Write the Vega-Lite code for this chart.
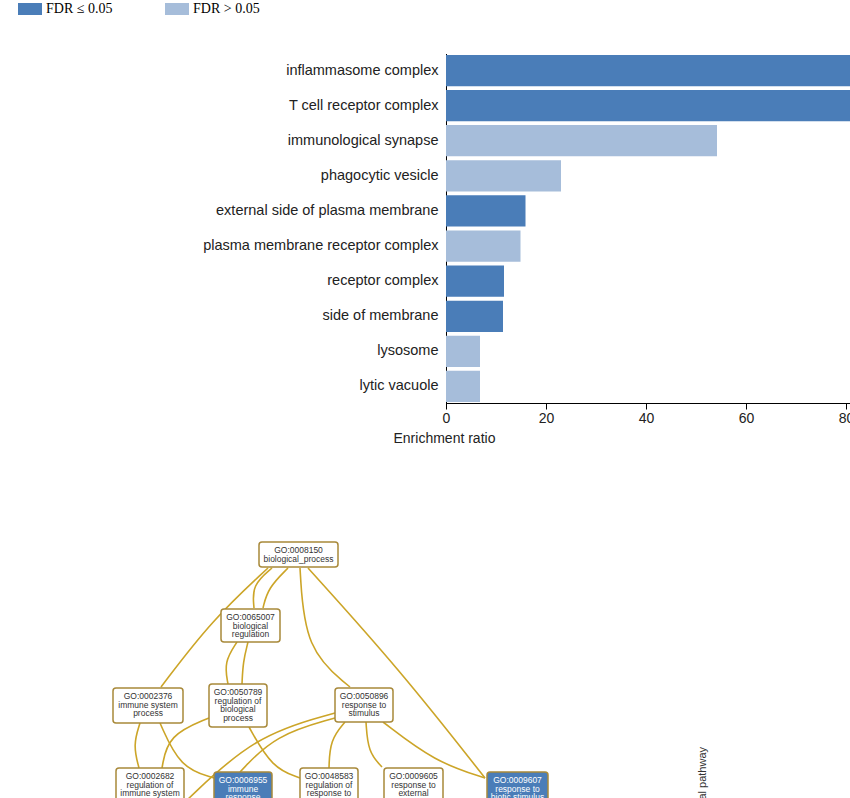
{
  "$schema": "https://vega.github.io/schema/vega-lite/v6.json",
  "width": 850,
  "height": 798,
  "padding": 0,
  "autosize": {"type": "none"},
  "background": "white",
  "config": {"view": {"stroke": null}, "font": "Liberation Sans"},
  "datasets": {
    "bars": [
      {"term": "inflammasome complex", "ratio": 100, "fdr": "FDR ≤ 0.05"},
      {"term": "T cell receptor complex", "ratio": 100, "fdr": "FDR ≤ 0.05"},
      {"term": "immunological synapse", "ratio": 54.2, "fdr": "FDR > 0.05"},
      {"term": "phagocytic vesicle", "ratio": 23.0, "fdr": "FDR > 0.05"},
      {"term": "external side of plasma membrane", "ratio": 15.9, "fdr": "FDR ≤ 0.05"},
      {"term": "plasma membrane receptor complex", "ratio": 14.9, "fdr": "FDR > 0.05"},
      {"term": "receptor complex", "ratio": 11.6, "fdr": "FDR ≤ 0.05"},
      {"term": "side of membrane", "ratio": 11.4, "fdr": "FDR ≤ 0.05"},
      {"term": "lysosome", "ratio": 6.8, "fdr": "FDR > 0.05"},
      {"term": "lytic vacuole", "ratio": 6.8, "fdr": "FDR > 0.05"}
    ],
    "nodes": [
      {"id": "GO:0008150", "label": "GO:0008150\nbiological_process", "x1": 259, "x2": 338, "y1": 542, "y2": 567, "cx": 298.5, "sig": false},
      {"id": "GO:0065007", "label": "GO:0065007\nbiological\nregulation", "x1": 221, "x2": 280, "y1": 609, "y2": 642, "cx": 250.5, "sig": false},
      {"id": "GO:0002376", "label": "GO:0002376\nimmune system\nprocess", "x1": 113, "x2": 183, "y1": 688, "y2": 723, "cx": 148, "sig": false},
      {"id": "GO:0050789", "label": "GO:0050789\nregulation of\nbiological\nprocess", "x1": 209, "x2": 267, "y1": 684, "y2": 727, "cx": 238, "sig": false},
      {"id": "GO:0050896", "label": "GO:0050896\nresponse to\nstimulus", "x1": 335, "x2": 393, "y1": 688, "y2": 722, "cx": 364, "sig": false},
      {"id": "GO:0002682", "label": "GO:0002682\nregulation of\nimmune system\nprocess", "x1": 116, "x2": 184, "y1": 768, "y2": 812, "cx": 150, "sig": false},
      {"id": "GO:0006955", "label": "GO:0006955\nimmune\nresponse", "x1": 214, "x2": 272, "y1": 772, "y2": 815, "cx": 243, "sig": true},
      {"id": "GO:0048583", "label": "GO:0048583\nregulation of\nresponse to\nstimulus", "x1": 300, "x2": 358, "y1": 768, "y2": 812, "cx": 329, "sig": false},
      {"id": "GO:0009605", "label": "GO:0009605\nresponse to\nexternal\nstimulus", "x1": 384, "x2": 443, "y1": 768, "y2": 812, "cx": 413.5, "sig": false},
      {"id": "GO:0009607", "label": "GO:0009607\nresponse to\nbiotic stimulus", "x1": 487, "x2": 548, "y1": 772, "y2": 815, "cx": 517.5, "sig": true}
    ],
    "edges": [
      {"e": 1, "o": 0, "x": 272, "y": 568}, {"e": 1, "o": 1, "x": 252, "y": 585}, {"e": 1, "o": 2, "x": 254, "y": 608},
      {"e": 2, "o": 0, "x": 288, "y": 568}, {"e": 2, "o": 1, "x": 268, "y": 588}, {"e": 2, "o": 2, "x": 263, "y": 608},
      {"e": 3, "o": 0, "x": 268, "y": 568}, {"e": 3, "o": 1, "x": 212, "y": 620}, {"e": 3, "o": 2, "x": 161, "y": 687},
      {"e": 4, "o": 0, "x": 300, "y": 568}, {"e": 4, "o": 1, "x": 305, "y": 650}, {"e": 4, "o": 2, "x": 350, "y": 687},
      {"e": 5, "o": 0, "x": 308, "y": 568}, {"e": 5, "o": 1, "x": 400, "y": 670}, {"e": 5, "o": 2, "x": 485, "y": 778},
      {"e": 6, "o": 0, "x": 237, "y": 642}, {"e": 6, "o": 1, "x": 224, "y": 662}, {"e": 6, "o": 2, "x": 228, "y": 684},
      {"e": 7, "o": 0, "x": 248, "y": 642}, {"e": 7, "o": 1, "x": 243, "y": 662}, {"e": 7, "o": 2, "x": 242, "y": 684},
      {"e": 8, "o": 0, "x": 140, "y": 723}, {"e": 8, "o": 1, "x": 133, "y": 745}, {"e": 8, "o": 2, "x": 139, "y": 768},
      {"e": 9, "o": 0, "x": 160, "y": 723}, {"e": 9, "o": 1, "x": 180, "y": 768}, {"e": 9, "o": 2, "x": 214, "y": 778},
      {"e": 10, "o": 0, "x": 209, "y": 718}, {"e": 10, "o": 1, "x": 168, "y": 735}, {"e": 10, "o": 2, "x": 162, "y": 768},
      {"e": 11, "o": 0, "x": 249, "y": 727}, {"e": 11, "o": 1, "x": 272, "y": 768}, {"e": 11, "o": 2, "x": 300, "y": 778},
      {"e": 12, "o": 0, "x": 335, "y": 718}, {"e": 12, "o": 1, "x": 275, "y": 735}, {"e": 12, "o": 2, "x": 240, "y": 772},
      {"e": 13, "o": 0, "x": 335, "y": 713}, {"e": 13, "o": 1, "x": 255, "y": 735}, {"e": 13, "o": 2, "x": 185, "y": 802},
      {"e": 14, "o": 0, "x": 345, "y": 722}, {"e": 14, "o": 1, "x": 330, "y": 740}, {"e": 14, "o": 2, "x": 329, "y": 768},
      {"e": 15, "o": 0, "x": 366, "y": 722}, {"e": 15, "o": 1, "x": 368, "y": 752}, {"e": 15, "o": 2, "x": 382, "y": 767},
      {"e": 16, "o": 0, "x": 383, "y": 722}, {"e": 16, "o": 1, "x": 435, "y": 762}, {"e": 16, "o": 2, "x": 485, "y": 778}
    ],
    "notes": [
      {"text": "Canonical pathway", "x": 703, "y": 747}
    ]
  },
  "layer": [
    {
      "data": {"name": "bars"},
      "mark": {"type": "bar", "clip": true},
      "encoding": {
        "x": {
          "field": "ratio", "type": "quantitative",
          "scale": {"domain": [0, 80.8], "range": [446, 850], "nice": false, "zero": true},
          "axis": {
            "title": "Enrichment ratio", "offset": -395, "values": [0, 20, 40, 60, 80],
            "grid": false, "domainColor": "#000", "tickColor": "#000", "tickSize": 6,
            "labelFontSize": 14, "labelColor": "#222", "labelPadding": 2, "labelFlush": false, "labelOverlap": false,
            "titleFontSize": 14, "titleFontWeight": "normal", "titleColor": "#222",
            "titleAnchor": "start", "titleAlign": "left", "titleBaseline": "alphabetic", "titleX": 393, "titleY": 39
          }
        },
        "y": {
          "field": "term", "type": "nominal", "sort": null,
          "scale": {"range": [53.5, 403.5], "paddingInner": 0.11, "paddingOuter": 0.04},
          "axis": {
            "title": null, "offset": -446, "ticks": false, "domainColor": "#000",
            "labelFontSize": 14.5, "labelColor": "#222", "labelPadding": 8, "labelLimit": 400
          }
        },
        "color": {
          "field": "fdr", "type": "nominal",
          "scale": {"domain": ["FDR ≤ 0.05", "FDR > 0.05"], "range": ["#4a7db8", "#a6bdda"]},
          "legend": {
            "orient": "none", "legendX": 18, "legendY": -3, "direction": "horizontal", "title": null,
            "symbolType": "M-1,-0.5H1V0.5H-1Z", "symbolSize": 576, "symbolStrokeWidth": 0, "symbolOpacity": 1,
            "labelFont": "Liberation Serif", "labelFontSize": 14, "labelColor": "#000", "labelOffset": 4,
            "columnPadding": 52
          }
        }
      }
    },
    {
      "data": {"name": "edges"},
      "mark": {"type": "line", "interpolate": "basis", "color": "#cca528", "strokeWidth": 1.6},
      "encoding": {
        "x": {"field": "x", "type": "quantitative", "scale": {"domain": [0, 850], "range": [0, 850], "nice": false, "zero": false}, "axis": null},
        "y": {"field": "y", "type": "quantitative", "scale": {"domain": [0, 798], "range": [0, 798], "nice": false, "zero": false}, "axis": null},
        "detail": {"field": "e", "type": "nominal"},
        "order": {"field": "o", "type": "quantitative"}
      }
    },
    {
      "data": {"name": "nodes"},
      "mark": {"type": "rect", "cornerRadius": 3, "stroke": "#a8893a", "strokeWidth": 1.5},
      "encoding": {
        "x": {"field": "x1", "type": "quantitative", "scale": {"domain": [0, 850], "range": [0, 850], "nice": false, "zero": false}, "axis": null},
        "x2": {"field": "x2"},
        "y": {"field": "y1", "type": "quantitative", "scale": {"domain": [0, 798], "range": [0, 798], "nice": false, "zero": false}, "axis": null},
        "y2": {"field": "y2"},
        "fill": {"condition": {"test": "datum.sig", "value": "#4a7db8"}, "value": "white"}
      }
    },
    {
      "data": {"name": "nodes"},
      "mark": {"type": "text", "fontSize": 8.5, "baseline": "top", "align": "center", "dy": 4, "lineBreak": "\n", "lineHeight": 8.6},
      "encoding": {
        "x": {"field": "cx", "type": "quantitative", "scale": {"domain": [0, 850], "range": [0, 850], "nice": false, "zero": false}, "axis": null},
        "y": {"field": "y1", "type": "quantitative", "scale": {"domain": [0, 798], "range": [0, 798], "nice": false, "zero": false}, "axis": null},
        "text": {"field": "label"},
        "color": {"condition": {"test": "datum.sig", "value": "white"}, "value": "#333"}
      }
    },
    {
      "data": {"name": "notes"},
      "mark": {"type": "text", "fontSize": 11, "angle": 270, "align": "right", "baseline": "middle", "color": "#333"},
      "encoding": {
        "x": {"field": "x", "type": "quantitative", "scale": {"domain": [0, 850], "range": [0, 850], "nice": false, "zero": false}, "axis": null},
        "y": {"field": "y", "type": "quantitative", "scale": {"domain": [0, 798], "range": [0, 798], "nice": false, "zero": false}, "axis": null},
        "text": {"field": "text"}
      }
    }
  ],
  "resolve": {"scale": {"x": "independent", "y": "independent", "color": "independent"}, "axis": {"x": "independent", "y": "independent"}}
}
